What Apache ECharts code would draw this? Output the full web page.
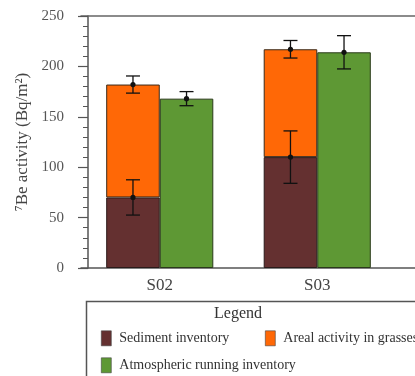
<!DOCTYPE html>
<html>
<head>
<meta charset="utf-8">
<script src="https://cdn.jsdelivr.net/npm/echarts@6/dist/echarts.min.js"></script>
<style>
  html, body { margin: 0; padding: 0; background: #fff; }
  #chart { width: 415px; height: 376px; }
</style>
</head>
<body>
<div id="chart"></div>
<script>
// Sampling sites (the trailing blank slot keeps the frame running past the last site)
const sites = ['S02', 'S03', ''];

// 7Be inventories, Bq/m²
const sedimentInventory = [70, 110];
const arealGrasses = [112, 107];          // stacked on top of the sediment inventory
const atmosphericInventory = [168, 214];

// Uncertainties (±)
const sedimentErr = [17.5, 26];
const arealErr = [8.5, 8.7];              // on the stacked total
const atmosphericErr = [7, 16.5];

const yTicks = [0, 50, 100, 150, 200, 250];

const FONT = '"Liberation Serif", "DejaVu Serif", serif';
const colors = { sediment: '#643030', areal: '#ff6806', atm: '#5e9834' };

// error bars: [siteIndex, centre, halfWidth, side(-1 left bar, +1 right bar)]
const errData = [];
sites.forEach((s, i) => {
  if (i >= sedimentInventory.length) return;
  errData.push([i, sedimentInventory[i], sedimentErr[i], -1]);
  errData.push([i, sedimentInventory[i] + arealGrasses[i], arealErr[i], -1]);
  errData.push([i, atmosphericInventory[i], atmosphericErr[i], 1]);
});

const BAR_FRAC = 0.34;

function renderErr(params, api) {
  const i = api.value(0), v = api.value(1), e = api.value(2), side = api.value(3);
  const band = api.size([1, 0])[0];
  const dx = side * band * BAR_FRAC / 2;
  const c = api.coord([i, v]);
  const hi = api.coord([i, v + e]);
  const lo = api.coord([i, v - e]);
  const x = c[0] + dx;
  const cap = 7;
  const st = { stroke: '#111', lineWidth: 1.3 };
  return {
    type: 'group',
    children: [
      { type: 'line', shape: { x1: x, y1: hi[1], x2: x, y2: lo[1] }, style: st },
      { type: 'line', shape: { x1: x - cap, y1: hi[1], x2: x + cap, y2: hi[1] }, style: st },
      { type: 'line', shape: { x1: x - cap, y1: lo[1], x2: x + cap, y2: lo[1] }, style: st },
      { type: 'circle', shape: { cx: x, cy: c[1], r: 2.6 }, style: { fill: '#111' } }
    ]
  };
}

const chart = echarts.init(document.getElementById('chart'), null, { renderer: 'canvas' });

const legendText = { fontFamily: FONT, fontSize: 14, color: '#333', padding: [0, 0, 0, 3] };
const legendBase = {
  padding: 0, itemWidth: 10, itemHeight: 15, icon: 'rect',
  textStyle: legendText,
  itemStyle: { borderColor: '#444', borderWidth: 0.6 }
};

chart.setOption({
  animation: false,
  backgroundColor: '#fff',
  grid: { left: 81, top: 16, width: 472.5, bottom: 108, outerBoundsMode: 'none' },
  xAxis: [
    {
      type: 'category',
      data: sites,
      position: 'bottom',
      axisLine: { show: true, lineStyle: { color: '#555', width: 1.5 } },
      axisTick: { show: false },
      axisLabel: { fontFamily: FONT, fontSize: 17, color: '#444', margin: 9 },
      splitLine: { show: false }
    },
    {
      type: 'category',
      data: sites,
      position: 'top',
      axisLine: { show: true, onZero: false, lineStyle: { color: '#666', width: 1.5 } },
      axisTick: { show: false },
      axisLabel: { show: false }
    }
  ],
  yAxis: {
    type: 'value',
    min: yTicks[0],
    max: yTicks[yTicks.length - 1],
    interval: 50,
    offset: -7,
    name: '⁷Be activity (Bq/m²)',
    nameLocation: 'middle',
    nameGap: 57,
    nameTextStyle: { fontFamily: FONT, fontSize: 17, color: '#444' },
    axisLine: { show: true, lineStyle: { color: '#555', width: 1.5 } },
    axisTick: { show: true, length: 10, lineStyle: { color: '#555', width: 1.2 } },
    minorTick: { show: true, splitNumber: 5, length: 5, lineStyle: { color: '#555', width: 1 } },
    axisLabel: { fontFamily: FONT, fontSize: 15, color: '#555', margin: 24 },
    splitLine: { show: false }
  },
  legend: [
    Object.assign({ data: ['Sediment inventory'], left: 101, top: 330.5 }, legendBase),
    Object.assign({ data: ['Areal activity in grasses'], left: 265, top: 330.5 }, legendBase),
    Object.assign({ data: ['Atmospheric running inventory'], left: 101, top: 357.5 }, legendBase)
  ],
  graphic: [
    {
      type: 'rect', left: 84, top: 299, silent: true,
      shape: { width: 400, height: 120 },
      style: { fill: 'none', stroke: '#555', lineWidth: 1.5 }
    },
    {
      type: 'text', x: 238, y: 314, silent: true,
      style: { text: 'Legend', font: '16px ' + FONT, fill: '#333', align: 'center', verticalAlign: 'middle' }
    }
  ],
  series: [
    {
      name: 'Sediment inventory', type: 'bar', stack: 'site',
      data: sedimentInventory, barWidth: (BAR_FRAC * 100) + '%', barGap: '0%',
      itemStyle: { color: colors.sediment, borderColor: '#2a1a1a', borderWidth: 1 }
    },
    {
      name: 'Areal activity in grasses', type: 'bar', stack: 'site',
      data: arealGrasses, barWidth: (BAR_FRAC * 100) + '%', barGap: '0%',
      itemStyle: { color: colors.areal, borderColor: '#3a2a1a', borderWidth: 1 }
    },
    {
      name: 'Atmospheric running inventory', type: 'bar',
      data: atmosphericInventory, barWidth: (BAR_FRAC * 100) + '%', barGap: '0%',
      itemStyle: { color: colors.atm, borderColor: '#2a3a1a', borderWidth: 1 }
    },
    {
      type: 'custom', renderItem: renderErr, data: errData,
      encode: { x: 0, y: 1 }, z: 10, silent: true
    }
  ]
});
</script>
</body>
</html>
